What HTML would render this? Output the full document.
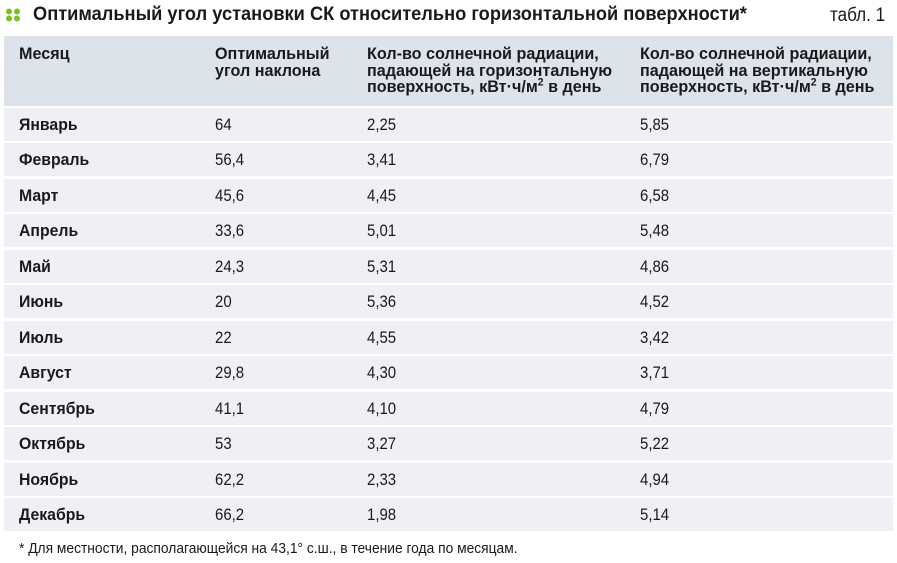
<!DOCTYPE html>
<html><head><meta charset="utf-8"><style>
body{margin:0;width:897px;height:563px;background:#fff;font-family:"Liberation Sans",sans-serif;color:#1a1a1a;position:relative;overflow:hidden}
.a{position:absolute;white-space:nowrap}
.s{display:inline-block;transform-origin:0 0;transform:scaleX(.84)}
.hdr{position:absolute;left:4px;top:36px;width:889px;height:70px;background:#dce3ea}
.row{position:absolute;left:4px;width:889px;height:33px;background:#eef0f3}
.h{font-weight:bold;font-size:17px;line-height:16.5px}
.h .s{transform:scaleX(.95)}
.m{font-weight:bold;font-size:17px}
.m .s{transform:scaleX(.93)}
.v{font-size:17px}
.v .s{transform:scaleX(.88)}
</style></head><body>
<div class="a" style="left:5px;top:8px;width:16px;height:14px">
<svg width="16" height="14"><circle cx="4" cy="3.5" r="3" fill="#7cc021"/><circle cx="12" cy="3.5" r="3" fill="#7cc021"/><circle cx="4" cy="10.5" r="3" fill="#7cc021"/><circle cx="12" cy="10.5" r="3" fill="#7cc021"/></svg></div>
<div class="a" style="left:33px;top:4px;font-weight:bold;font-size:19px"><span class="s" style="transform:scaleX(.96)">Оптимальный угол установки СК относительно горизонтальной поверхности*</span></div>
<div class="a" style="left:830px;top:5px;font-size:19px"><span class="s" style="transform:scaleX(.9)">табл. 1</span></div>
<div class="hdr"></div>
<div class="a h" style="left:19px;top:46px"><span class="s">Месяц</span></div>
<div class="a h" style="left:215px;top:46px"><span class="s">Оптимальный<br>угол наклона</span></div>
<div class="a h" style="left:367px;top:46px"><span class="s">Кол-во солнечной радиации,<br>падающей на горизонтальную<br>поверхность, кВт·ч/м<sup style="font-size:11px;line-height:0">2</sup> в день</span></div>
<div class="a h" style="left:640px;top:46px"><span class="s">Кол-во солнечной радиации,<br>падающей на вертикальную<br>поверхность, кВт·ч/м<sup style="font-size:11px;line-height:0">2</sup> в день</span></div>
<div id="rows"></div>
<div class="a" style="left:19px;top:540px;font-size:15px"><span class="s" style="transform:scaleX(.92)">* Для местности, располагающейся на 43,1° с.ш., в течение года по месяцам.</span></div>
<script>
const months=["Январь","Февраль","Март","Апрель","Май","Июнь","Июль","Август","Сентябрь","Октябрь","Ноябрь","Декабрь"];
const angle=["64","56,4","45,6","33,6","24,3","20","22","29,8","41,1","53","62,2","66,2"];
const horiz=["2,25","3,41","4,45","5,01","5,31","5,36","4,55","4,30","4,10","3,27","2,33","1,98"];
const vert=["5,85","6,79","6,58","5,48","4,86","4,52","3,42","3,71","4,79","5,22","4,94","5,14"];
const c=document.getElementById('rows');
months.forEach((m,i)=>{
 const y=108+i*35.45;
 const r=document.createElement('div');r.className='row';r.style.top=y+'px';
 
 
 c.appendChild(r);
 [[m,19,'m'],[angle[i],215,'v'],[horiz[i],367,'v'],[vert[i],640,'v']].forEach(([t,x,cl],j)=>{
  const d=document.createElement('div');d.className='a '+cl;d.style.left=x+'px';d.style.top=(y+7)+'px';
  d.innerHTML='<span class="s">'+t+'</span>';
  
  
  c.appendChild(d);
 });
});
</script>
</body></html>
